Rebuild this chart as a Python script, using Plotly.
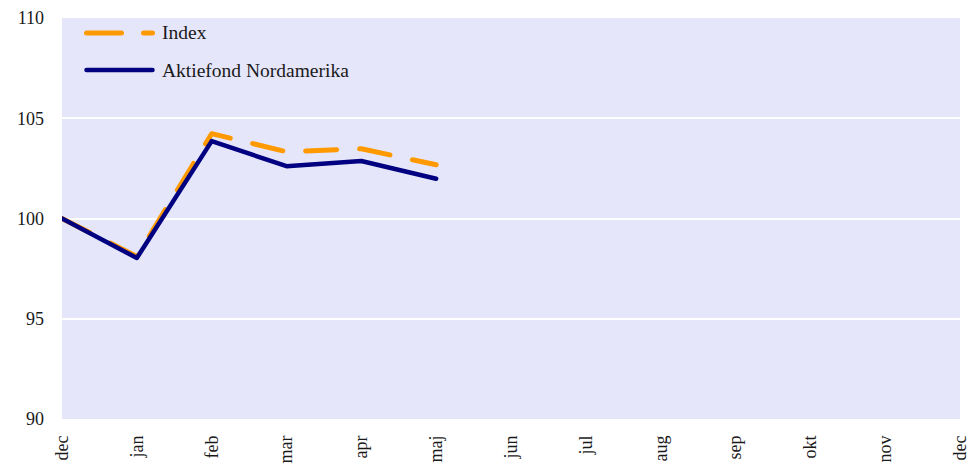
import plotly.graph_objects as go

months = ["dec", "jan", "feb", "mar", "apr", "maj", "jun", "jul", "aug", "sep", "okt", "nov", "dec"]
index_vals = [100.0, 98.1, 104.23, 103.33, 103.48, 102.68]
fund_vals = [100.0, 98.03, 103.86, 102.61, 102.87, 101.98]
y_ticks = [90, 95, 100, 105, 110]

FONT = "Liberation Serif, Times New Roman, serif"
ORANGE = "#FF9900"
NAVY = "#000080"

x_pos = list(range(len(months)))

fig = go.Figure()
fig.add_trace(go.Scatter(x=x_pos[:len(index_vals)], y=index_vals, mode="lines", name="Index",
                         line=dict(color=ORANGE, width=5, dash="31px,23px")))
fig.add_trace(go.Scatter(x=x_pos[:len(fund_vals)], y=fund_vals, mode="lines", name="Aktiefond Nordamerika",
                         line=dict(color=NAVY, width=4.5)))

# manual legend
legend_items = [("Index", ORANGE, "35px,22px", 5, 0.9626), ("Aktiefond Nordamerika", NAVY, "solid", 4.5, 0.8703)]
for name, color, dash, w, yy in legend_items:
    fig.add_shape(type="line", xref="paper", yref="paper", x0=0.0273, x1=0.1008, y0=yy, y1=yy,
                  line=dict(color=color, width=w, dash=dash))
    fig.add_annotation(xref="paper", yref="paper", x=0.1091, y=yy, text=name, showarrow=False,
                       xanchor="left", yanchor="middle", font=dict(family=FONT, size=19.5, color="#1a1a1a"))

fig.update_layout(
    width=970, height=471,
    margin=dict(l=62, r=10, t=18, b=52),
    paper_bgcolor="white",
    plot_bgcolor="#E6E6FA",
    showlegend=False,
    font=dict(family=FONT, size=18, color="#1a1a1a"),
)
fig.update_xaxes(range=[0, len(months) - 1], tickmode="array", tickvals=x_pos, ticktext=months,
                 tickangle=-90, showgrid=False, zeroline=False, showline=False, ticks="",
                 ticklabelstandoff=12, automargin=False, tickfont=dict(size=18))
fig.update_yaxes(range=[90, 110], tickmode="array", tickvals=y_ticks, showgrid=True, gridcolor="white",
                 gridwidth=2, zeroline=False, showline=False, ticks="", ticklabelstandoff=17,
                 automargin=False, tickfont=dict(size=18))

post = (
    "document.body.style.margin='0';document.body.style.overflow='hidden';"
    "document.querySelectorAll('.scatterlayer path, .shapelayer path').forEach(function(p){"
    "p.style.strokeLinecap='round';p.style.strokeLinejoin='round';});"
)
fig.write_html("out.html", post_script=post, config={"displayModeBar": False})
